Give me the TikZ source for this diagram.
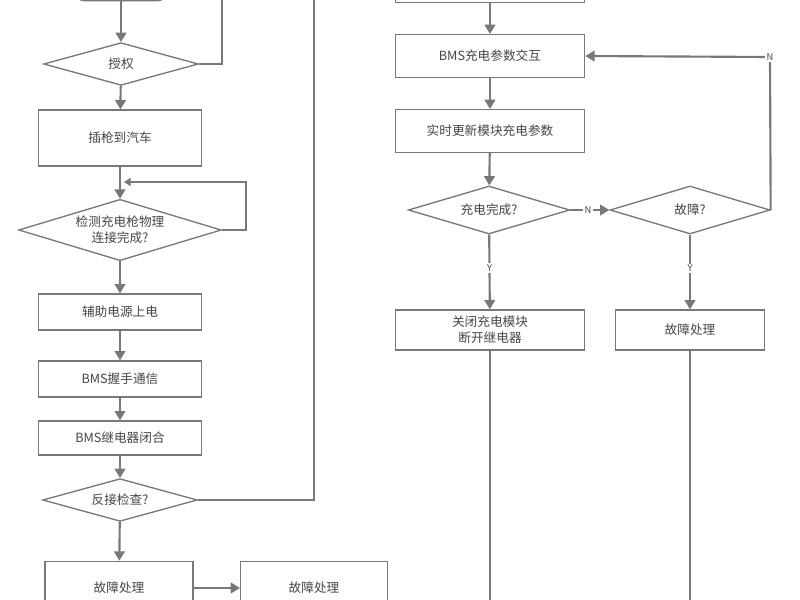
\documentclass[tikz,border=0pt]{standalone}
\usepackage{fontspec}
\setmainfont{Noto Sans CJK SC}
\usetikzlibrary{shapes.geometric,arrows.meta}
\definecolor{lineGray}{RGB}{120,120,120}
\definecolor{textGray}{RGB}{70,70,70}
\tikzset{
  box/.style={draw=lineGray,line width=1pt,rectangle,inner sep=1pt,text=textGray,font=\fontsize{9.5}{12}\selectfont,align=center},
  dia/.style={draw=lineGray,line width=1pt,diamond,aspect=3.5,inner sep=-3pt,text=textGray,font=\fontsize{9.5}{12}\selectfont,align=center},
  flow/.style={draw=lineGray,line width=1.6pt,-{Triangle[length=7pt,width=8pt]}},
  plain/.style={draw=lineGray,line width=1pt},
  lbl/.style={text=textGray,font=\fontsize{7}{8}\selectfont,inner sep=1pt,fill=white}
}
\begin{document}
\begin{tikzpicture}[x=0.75pt,y=0.75pt,yscale=-1,xscale=1]
\useasboundingbox (0,0) rectangle (800,600);
\fill[white] (0,0) rectangle (800,600);
\clip (0,0) rectangle (800,600);

% left column
\node[box,rounded corners=6pt,minimum width=67.5pt,minimum height=22pt] (start) at (121,-14) {};
\node[dia,minimum width=116pt,minimum height=32pt] (auth) at (121,64) {授权};
\node[box,minimum width=122pt,minimum height=42pt] (plug) at (120,138) {插枪到汽车};
\node[dia,aspect=3.3,inner sep=-9pt,minimum width=152pt,minimum height=46pt] (detect) at (120,230) {检测充电枪物理\\连接完成?};
\node[box,minimum width=122pt,minimum height=27pt] (aux) at (120,312) {辅助电源上电};
\node[box,minimum width=122pt,minimum height=27pt] (shake) at (120,379) {BMS握手通信};
\node[box,minimum width=122pt,minimum height=25.5pt] (relay) at (120,438) {BMS继电器闭合};
\node[dia,minimum width=116pt,minimum height=32pt] (rev) at (120,500) {反接检查?};
\node[box,minimum width=111pt,minimum height=40pt] (faultA) at (119,588) {故障处理};
\node[box,minimum width=110pt,minimum height=40pt] (faultB) at (314,588) {故障处理};

% right column
\node[box,minimum width=142pt,minimum height=22pt] (topR) at (490,-12) {};
\node[box,minimum width=142pt,minimum height=32pt] (param) at (490,56) {BMS充电参数交互};
\node[box,minimum width=142pt,minimum height=32pt] (update) at (490,131) {实时更新模块充电参数};
\node[dia,minimum width=121pt,minimum height=36pt] (done) at (489,210) {充电完成?};
\node[dia,minimum width=120pt,minimum height=36pt] (fault) at (690,210) {故障?};
\node[box,minimum width=142pt,minimum height=30pt] (close) at (490,330) {关闭充电模块\\断开继电器};
\node[box,minimum width=112pt,minimum height=30pt] (faultC) at (690,330) {故障处理};

\coordinate (authUp) at (222,-5);
\coordinate (revUp) at (314,-5);
\coordinate (loopR) at (246,182);
\coordinate (loopIn) at (124,182);
\coordinate (retCorner) at (770,57);
\coordinate (closeEnd) at (490,605);
\coordinate (faultCEnd) at (690,605);

% connectors
\draw[flow] (start) -- (auth);
\draw[flow] (auth) -- (plug);
\draw[flow] (plug) -- (detect);
\draw[flow] (detect) -- (aux);
\draw[flow] (aux) -- (shake);
\draw[flow] (shake) -- (relay);
\draw[flow] (relay) -- (rev);
\draw[flow] (rev) -- (faultA);
\draw[flow] (faultA) -- (faultB);
\draw[plain] (auth.east) -| (authUp);
\draw[plain] (rev.east) -| (revUp);
\draw[plain,-{Triangle[length=5pt,width=6pt]}] (detect.east) -| (loopR) |- (loopIn);

\draw[flow] (topR) -- (param);
\draw[flow] (param) -- (update);
\draw[flow] (update) -- (done);
\draw[flow] (done) -- node[lbl,pos=0.45]{Y} (close);
\draw[flow] (fault) -- node[lbl,pos=0.45]{Y} (faultC);
\draw[flow] (done) -- node[lbl,pos=0.45]{N} (fault);
\draw[flow] (fault.east) -- (retCorner) node[lbl]{N} -- (param.east);
\draw[plain] (close) -- (closeEnd);
\draw[plain] (faultC) -- (faultCEnd);
\end{tikzpicture}
\end{document}
